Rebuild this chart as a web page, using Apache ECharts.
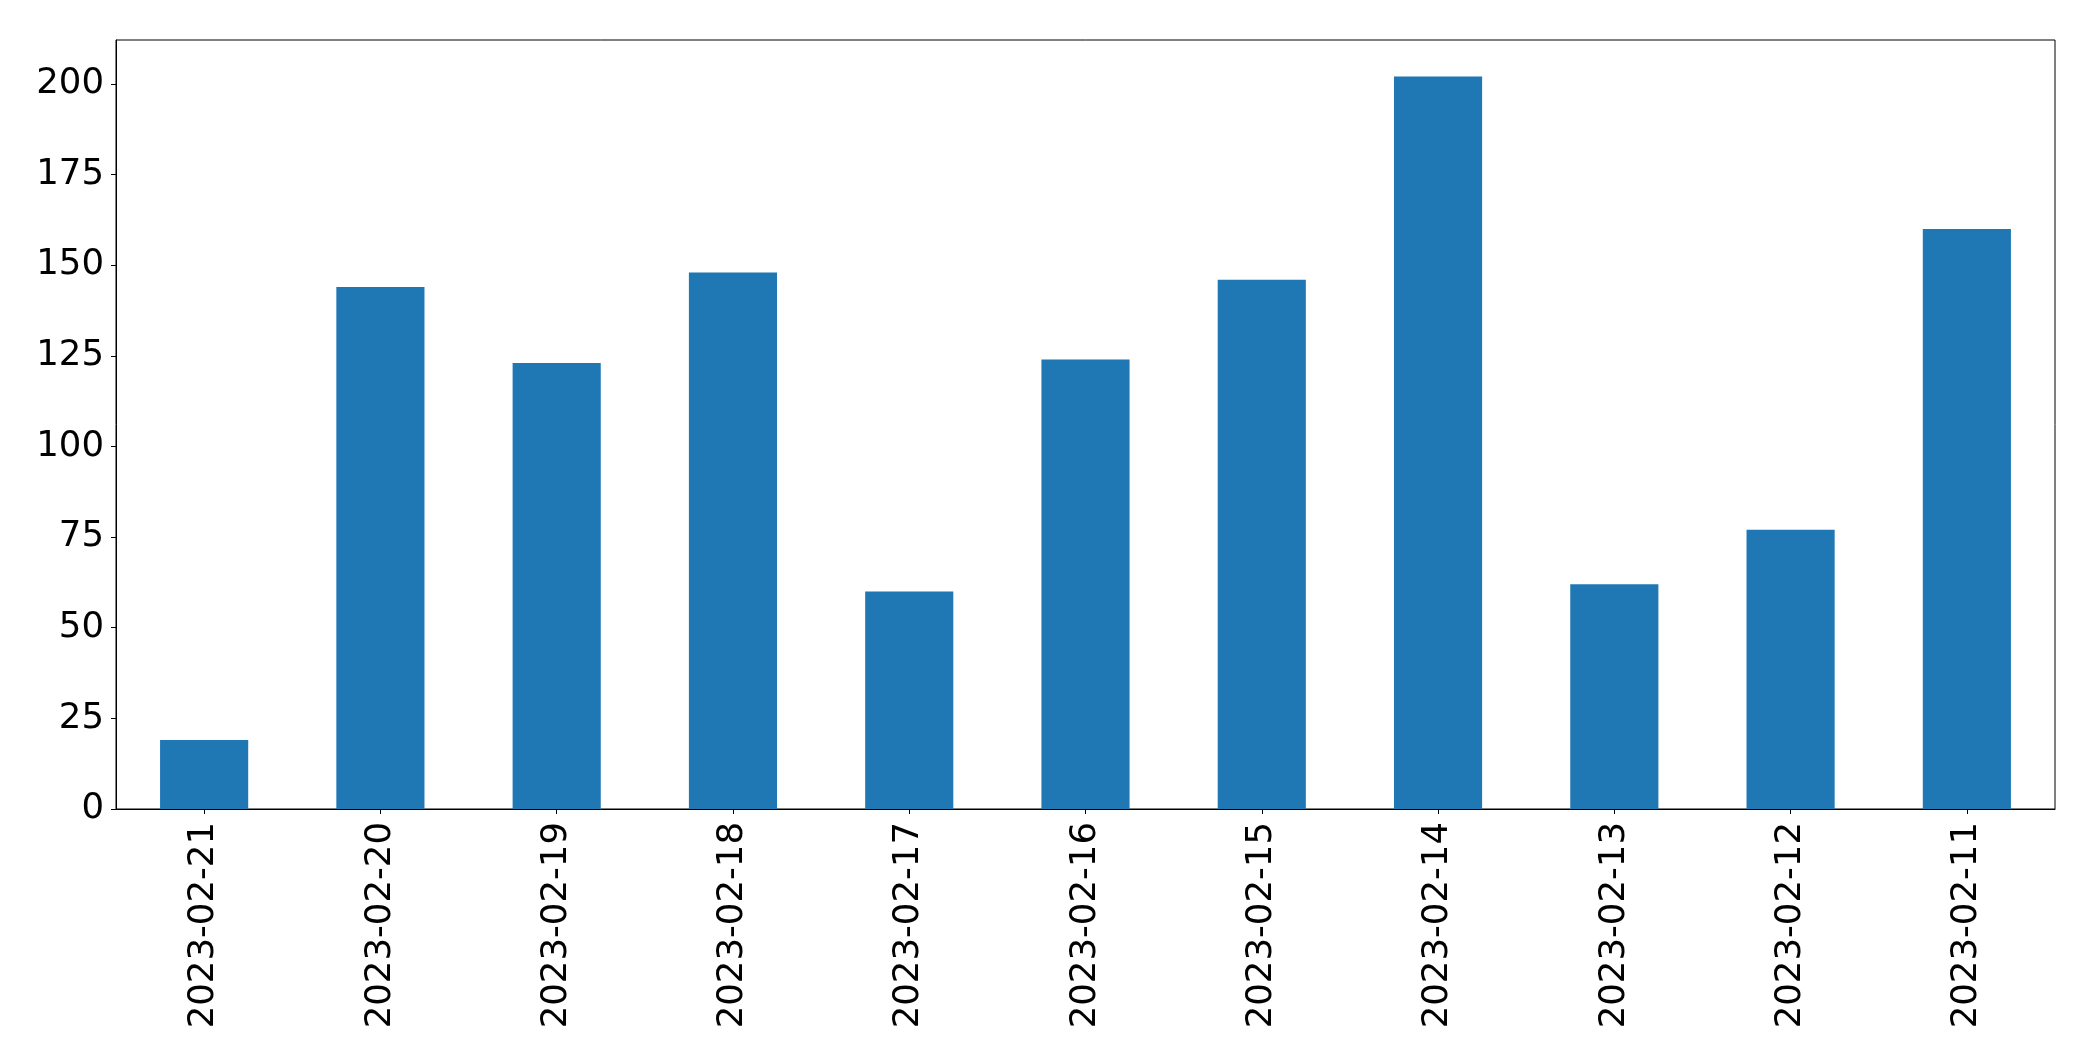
<!DOCTYPE html>
<html>
<head>
<meta charset="utf-8">
<script src="https://cdn.jsdelivr.net/npm/echarts@6/dist/echarts.min.js"></script>
<style>
html,body{margin:0;padding:0;background:#fff;}
#chart{width:2093px;height:1061px;}
</style>
</head>
<body>
<div id="chart"></div>
<script>
const categories = ['2023-02-21','2023-02-20','2023-02-19','2023-02-18','2023-02-17','2023-02-16','2023-02-15','2023-02-14','2023-02-13','2023-02-12','2023-02-11'];
const values = [19,144,123,148,60,124,146,202,62,77,160];
const yTicks = [0,25,50,75,100,125,150,175,200];
const yMax = 212.1;

const chart = echarts.init(document.getElementById('chart'));
chart.setOption({
  animation: false,
  backgroundColor: '#fff',
  grid: {
    left: 116, right: 38, top: 40, bottom: 252,
    show: true, borderColor: '#000', borderWidth: 1, backgroundColor: 'transparent'
  },
  xAxis: {
    type: 'category',
    data: categories,
    axisLine: { show: true, lineStyle: { color: '#000', width: 1 } },
    axisTick: { show: true, alignWithLabel: true, length: 5, lineStyle: { color: '#000', width: 1 } },
    axisLabel: {
      rotate: 90, margin: 13, color: '#000', fontSize: 35.5,
      fontFamily: 'DejaVu Sans', interval: 0
    },
    splitLine: { show: false }
  },
  yAxis: {
    type: 'value',
    min: 0, max: yMax, interval: 25,
    axisLine: { show: true, lineStyle: { color: '#000', width: 1 } },
    axisTick: { show: true, length: 5, lineStyle: { color: '#000', width: 1 }, customValues: yTicks },
    axisLabel: {
      margin: 12, color: '#000', fontSize: 35.5, fontFamily: 'DejaVu Sans',
      customValues: yTicks
    },
    splitLine: { show: false }
  },
  series: [{
    type: 'bar',
    data: values,
    barWidth: '50%',
    itemStyle: { color: '#1f77b4' }
  }]
});
</script>
</body>
</html>
